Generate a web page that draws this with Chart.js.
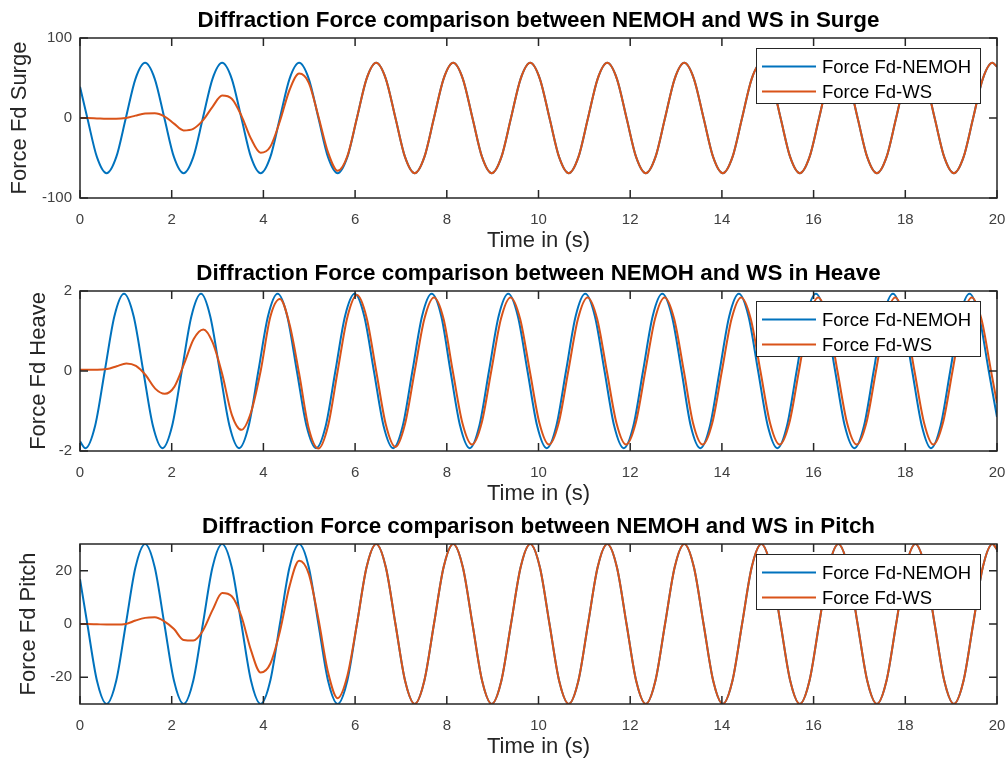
<!DOCTYPE html>
<html>
<head>
<meta charset="utf-8">
<title>Diffraction Force comparison between NEMOH and WS</title>
<script src="https://cdn.jsdelivr.net/npm/chart.js@4.4.1/dist/chart.umd.min.js"></script>
<style>
  html, body { margin: 0; padding: 0; background: #fff; overflow: hidden; }
  #wrap { position: relative; width: 1007px; height: 764px; }
  .panel { position: absolute; left: 0; width: 1007px; height: 254px; }
  canvas { display: block; }
</style>
</head>
<body>
<div id="wrap">
  <div class="panel" style="top:0px"><canvas id="surgeChart" width="1007" height="254"></canvas></div>
  <div class="panel" style="top:253px"><canvas id="heaveChart" width="1007" height="254"></canvas></div>
  <div class="panel" style="top:506px"><canvas id="pitchChart" width="1007" height="254"></canvas></div>
</div>
<script>
const xTicks = [0, 2, 4, 6, 8, 10, 12, 14, 16, 18, 20];

// Surge
const surgeTicks = [-100, 0, 100];
const surgeTime = [0,
    0.16, 0.37, 0.58, 0.79, 1.00, 1.21, 1.42, 1.63,
    1.84, 2.05, 2.26, 2.47, 2.68, 2.89, 3.10, 3.31,
    3.52, 3.73, 3.94, 4.15, 4.36, 4.57, 4.78, 4.99,
    5.20, 5.41, 5.62, 5.83, 6.04, 6.25, 6.46, 6.67,
    6.88, 7.09, 7.30, 7.51, 7.72, 7.93, 8.14, 8.35,
    8.56, 8.77, 8.98, 9.19, 9.40, 9.61, 9.82, 10.03,
    10.24, 10.45, 10.66, 10.87, 11.08, 11.29, 11.50, 11.71,
    11.92, 12.13, 12.34, 12.55, 12.76, 12.97, 13.18, 13.39,
    13.60, 13.81, 14.02, 14.23, 14.44, 14.65, 14.86, 15.07,
    15.28, 15.49, 15.70, 15.91, 16.12, 16.33, 16.54, 16.75,
    16.96, 17.17, 17.38, 17.59, 17.80, 18.01, 18.22, 18.43,
    18.64, 18.85, 19.06, 19.27, 19.48, 19.69, 19.90, 20.00];
const surgeNemoh = [39,
    0, -49, -69, -49, 0, 49, 69, 49,
    0, -49, -69, -49, 0, 49, 69, 49,
    0, -49, -69, -49, 0, 49, 69, 49,
    0, -49, -69, -49, 0, 49, 69, 49,
    0, -49, -69, -49, 0, 49, 69, 49,
    0, -49, -69, -49, 0, 49, 69, 49,
    0, -49, -69, -49, 0, 49, 69, 49,
    0, -49, -69, -49, 0, 49, 69, 49,
    0, -49, -69, -49, 0, 49, 69, 49,
    0, -49, -69, -49, 0, 49, 69, 49,
    0, -49, -69, -49, 0, 49, 69, 49,
    0, -49, -69, -49, 0, 49, 69, 64];
const surgeWs = [0,
    0, -0.5, -1, -1, 0, 3, 5.5, 5.8,
    2, -7, -15.5, -13.5, -3, 14, 28, 24,
    3, -26, -43.5, -36, -4, 35, 55.5, 44,
    2, -43, -66, -48, 0, 49, 69, 49,
    0, -49, -69, -49, 0, 49, 69, 49,
    0, -49, -69, -49, 0, 49, 69, 49,
    0, -49, -69, -49, 0, 49, 69, 49,
    0, -49, -69, -49, 0, 49, 69, 49,
    0, -49, -69, -49, 0, 49, 69, 49,
    0, -49, -69, -49, 0, 49, 69, 49,
    0, -49, -69, -49, 0, 49, 69, 49,
    0, -49, -69, -49, 0, 49, 69, 64];

// Heave
const heaveTicks = [-2, 0, 2];
const heaveTime = [0,
    0.12, 0.33, 0.54, 0.75, 0.96, 1.17, 1.38, 1.59,
    1.80, 2.01, 2.22, 2.43, 2.64, 2.84, 3.05, 3.26,
    3.47, 3.68, 3.89, 4.10, 4.31, 4.52, 4.73, 4.94,
    5.15, 5.36, 5.57, 5.78, 5.99, 6.20, 6.41, 6.62,
    6.83, 7.04, 7.25, 7.46, 7.67, 7.88, 8.08, 8.29,
    8.50, 8.71, 8.92, 9.13, 9.34, 9.55, 9.76, 9.97,
    10.18, 10.39, 10.60, 10.81, 11.02, 11.23, 11.44, 11.65,
    11.86, 12.07, 12.28, 12.49, 12.70, 12.91, 13.12, 13.32,
    13.53, 13.74, 13.95, 14.16, 14.37, 14.58, 14.79, 15.00,
    15.21, 15.42, 15.63, 15.84, 16.05, 16.26, 16.47, 16.68,
    16.89, 17.10, 17.31, 17.52, 17.73, 17.94, 18.15, 18.36,
    18.56, 18.77, 18.98, 19.19, 19.40, 19.61, 19.82, 20.00];
const heaveNemoh = [-1.76,
    -1.93, -1.37, 0, 1.37, 1.93, 1.37, 0, -1.37,
    -1.93, -1.37, 0, 1.37, 1.93, 1.37, 0, -1.37,
    -1.93, -1.37, 0, 1.37, 1.93, 1.37, 0, -1.37,
    -1.93, -1.37, 0, 1.37, 1.93, 1.37, 0, -1.37,
    -1.93, -1.37, 0, 1.37, 1.93, 1.37, 0, -1.37,
    -1.93, -1.37, 0, 1.37, 1.93, 1.37, 0, -1.37,
    -1.93, -1.37, 0, 1.37, 1.93, 1.37, 0, -1.37,
    -1.93, -1.37, 0, 1.37, 1.93, 1.37, 0, -1.37,
    -1.93, -1.37, 0, 1.37, 1.93, 1.37, 0, -1.37,
    -1.93, -1.37, 0, 1.37, 1.93, 1.37, 0, -1.37,
    -1.93, -1.37, 0, 1.37, 1.93, 1.37, 0, -1.37,
    -1.93, -1.37, 0, 1.37, 1.93, 1.37, 0, -1.15];
const heaveWsTime = [0,
    0.17, 0.38, 0.59, 0.80, 1.01, 1.22, 1.43, 1.64,
    1.85, 2.06, 2.27, 2.48, 2.69, 2.89, 3.10, 3.31,
    3.52, 3.73, 3.94, 4.15, 4.36, 4.57, 4.78, 4.99,
    5.20, 5.41, 5.62, 5.83, 6.04, 6.25, 6.46, 6.67,
    6.88, 7.09, 7.30, 7.51, 7.72, 7.93, 8.13, 8.34,
    8.55, 8.76, 8.97, 9.18, 9.39, 9.60, 9.81, 10.02,
    10.23, 10.44, 10.65, 10.86, 11.07, 11.28, 11.49, 11.70,
    11.91, 12.12, 12.33, 12.54, 12.75, 12.96, 13.17, 13.37,
    13.58, 13.79, 14.00, 14.21, 14.42, 14.63, 14.84, 15.05,
    15.26, 15.47, 15.68, 15.89, 16.10, 16.31, 16.52, 16.73,
    16.94, 17.15, 17.36, 17.57, 17.78, 17.99, 18.20, 18.41,
    18.61, 18.82, 19.03, 19.24, 19.45, 19.66, 19.87, 20.00];
const heaveWs = [0.03,
    0.03, 0.03, 0.05, 0.12, 0.19, 0.13, -0.1, -0.44,
    -0.57, -0.39, 0.18, 0.80, 1.04, 0.72, -0.07, -1.09,
    -1.47, -1.03, 0, 1.35, 1.80, 1.17, -0.07, -1.44,
    -1.94, -1.37, 0, 1.34, 1.90, 1.34, 0, -1.34,
    -1.90, -1.32, 0, 1.30, 1.84, 1.30, 0, -1.30,
    -1.84, -1.30, 0, 1.30, 1.84, 1.30, 0, -1.30,
    -1.84, -1.30, 0, 1.30, 1.84, 1.30, 0, -1.30,
    -1.84, -1.30, 0, 1.30, 1.84, 1.30, 0, -1.30,
    -1.84, -1.30, 0, 1.30, 1.84, 1.30, 0, -1.30,
    -1.84, -1.30, 0, 1.30, 1.84, 1.30, 0, -1.30,
    -1.84, -1.30, 0, 1.30, 1.84, 1.30, 0, -1.30,
    -1.84, -1.30, 0, 1.30, 1.84, 1.30, 0, -0.8];

// Pitch
const pitchTicks = [-20, 0, 20];
const pitchTime = [0,
    0.16, 0.37, 0.58, 0.79, 1.00, 1.21, 1.42, 1.63,
    1.84, 2.05, 2.26, 2.47, 2.68, 2.89, 3.10, 3.31,
    3.52, 3.73, 3.94, 4.15, 4.36, 4.57, 4.78, 4.99,
    5.20, 5.41, 5.62, 5.83, 6.04, 6.25, 6.46, 6.67,
    6.88, 7.09, 7.30, 7.51, 7.72, 7.93, 8.14, 8.35,
    8.56, 8.77, 8.98, 9.19, 9.40, 9.61, 9.82, 10.03,
    10.24, 10.45, 10.66, 10.87, 11.08, 11.29, 11.50, 11.71,
    11.92, 12.13, 12.34, 12.55, 12.76, 12.97, 13.18, 13.39,
    13.60, 13.81, 14.02, 14.23, 14.44, 14.65, 14.86, 15.07,
    15.28, 15.49, 15.70, 15.91, 16.12, 16.33, 16.54, 16.75,
    16.96, 17.17, 17.38, 17.59, 17.80, 18.01, 18.22, 18.43,
    18.64, 18.85, 19.06, 19.27, 19.48, 19.69, 19.90, 20.00];
const pitchNemoh = [16.8,
    0, -21.3, -30, -21.3, 0, 21.3, 30, 21.3,
    0, -21.3, -30, -21.3, 0, 21.3, 30, 21.3,
    0, -21.3, -30, -21.3, 0, 21.3, 30, 21.3,
    0, -21.3, -30, -21.3, 0, 21.3, 30, 21.3,
    0, -21.3, -30, -21.3, 0, 21.3, 30, 21.3,
    0, -21.3, -30, -21.3, 0, 21.3, 30, 21.3,
    0, -21.3, -30, -21.3, 0, 21.3, 30, 21.3,
    0, -21.3, -30, -21.3, 0, 21.3, 30, 21.3,
    0, -21.3, -30, -21.3, 0, 21.3, 30, 21.3,
    0, -21.3, -30, -21.3, 0, 21.3, 30, 21.3,
    0, -21.3, -30, -21.3, 0, 21.3, 30, 21.3,
    0, -21.3, -30, -21.3, 0, 21.3, 30, 28];
const pitchWs = [0,
    0, -0.1, -0.2, -0.2, 0, 1.3, 2.3, 2.5,
    1.0, -1.9, -6.0, -6.2, -2.5, 5.2, 11.6, 10.4,
    2.9, -9.9, -18.2, -14.9, -2.8, 14.2, 23.7, 18.8,
    1.9, -18.1, -27.8, -19.5, 0, 21.3, 30, 21.3,
    0, -21.3, -30, -21.3, 0, 21.3, 30, 21.3,
    0, -21.3, -30, -21.3, 0, 21.3, 30, 21.3,
    0, -21.3, -30, -21.3, 0, 21.3, 30, 21.3,
    0, -21.3, -30, -21.3, 0, 21.3, 30, 21.3,
    0, -21.3, -30, -21.3, 0, 21.3, 30, 21.3,
    0, -21.3, -30, -21.3, 0, 21.3, 30, 21.3,
    0, -21.3, -30, -21.3, 0, 21.3, 30, 21.3,
    0, -21.3, -30, -21.3, 0, 21.3, 30, 28];

const NEMOH_COLOR = '#0072BD';
const WS_COLOR = '#D95319';
const AXIS_COLOR = '#262626';
const FONT = '"Liberation Sans", Arial, sans-serif';

Chart.defaults.font.family = FONT;

function toPoints(times, values) {
    return times.map((t, i) => ({ x: t, y: values[i] }));
}

// axes box + inward tick marks, MATLAB style
const axesBox = {
    id: 'axesBox',
    afterDatasetsDraw(chart) {
        const { ctx, chartArea: a, scales: { x, y } } = chart;
        const len = 8;
        ctx.save();
        ctx.strokeStyle = AXIS_COLOR;
        ctx.lineWidth = 1.5;
        ctx.beginPath();
        x.ticks.forEach(t => {
            const px = x.getPixelForValue(t.value);
            ctx.moveTo(px, a.bottom); ctx.lineTo(px, a.bottom - len);
            ctx.moveTo(px, a.top); ctx.lineTo(px, a.top + len);
        });
        y.ticks.forEach(t => {
            const py = y.getPixelForValue(t.value);
            ctx.moveTo(a.left, py); ctx.lineTo(a.left + len, py);
            ctx.moveTo(a.right, py); ctx.lineTo(a.right - len, py);
        });
        ctx.stroke();
        ctx.strokeRect(a.left, a.top, a.right - a.left, a.bottom - a.top);
        ctx.restore();
    }
};

// title centred over the axes and the boxed legend in the top right corner
const figDecor = {
    id: 'figDecor',
    afterDraw(chart, args, opts) {
        const { ctx, chartArea: a } = chart;
        ctx.save();
        ctx.fillStyle = '#000';
        ctx.font = 'bold 22.4px ' + FONT;
        ctx.textAlign = 'center';
        ctx.textBaseline = 'middle';
        ctx.fillText(opts.title, (a.left + a.right) / 2, a.top - 17);

        const bw = 224, bh = 55;
        const bx = a.right - 17 - bw, by = a.top + 10;
        ctx.fillStyle = '#fff';
        ctx.fillRect(bx, by, bw, bh);
        ctx.strokeStyle = AXIS_COLOR;
        ctx.lineWidth = 1;
        ctx.strokeRect(bx + 0.5, by + 0.5, bw, bh);
        ctx.font = '18.5px ' + FONT;
        ctx.textAlign = 'left';
        chart.data.datasets.slice().sort((p, q) => q.order - p.order).forEach((ds, i) => {
            const ry = by + 18.5 + i * 25;
            ctx.strokeStyle = ds.borderColor;
            ctx.lineWidth = 2;
            ctx.beginPath();
            ctx.moveTo(bx + 6, ry); ctx.lineTo(bx + 60, ry);
            ctx.stroke();
            ctx.fillStyle = '#000';
            ctx.fillText(ds.label, bx + 66, ry + 1);
        });
        ctx.restore();
    }
};

function makeChart(id, cfg) {
    new Chart(document.getElementById(id), {
        type: 'line',
        data: {
            datasets: [{
                label: 'Force Fd-NEMOH',
                data: toPoints(cfg.time, cfg.nemoh),
                borderColor: NEMOH_COLOR,
                borderWidth: 2,
                pointRadius: 0,
                cubicInterpolationMode: 'monotone',
                order: 1
            }, {
                label: 'Force Fd-WS',
                data: toPoints(cfg.wsTime, cfg.ws),
                borderColor: WS_COLOR,
                borderWidth: 2,
                pointRadius: 0,
                cubicInterpolationMode: 'monotone',
                order: 0
            }]
        },
        options: {
            responsive: false,
            animation: false,
            layout: { padding: { top: 38, right: 10, left: 0, bottom: 0 } },
            plugins: {
                legend: { display: false },
                tooltip: { enabled: false },
                figDecor: { title: cfg.title }
            },
            scales: {
                x: {
                    type: 'linear',
                    min: 0,
                    max: 20,
                    afterBuildTicks: s => { s.ticks = xTicks.map(v => ({ value: v })); },
                    // fixed height, and no side padding so the axes keep their width
                    afterFit: s => { s.height = 56; s.paddingLeft = 0; s.paddingRight = 0; },
                    grid: { display: false, drawTicks: false },
                    border: { display: false },
                    ticks: { color: '#404040', font: { size: 15 }, padding: 13, maxRotation: 0, autoSkip: false },
                    title: { display: true, text: 'Time in (s)', color: AXIS_COLOR, font: { size: 22 }, padding: 0 }
                },
                y: {
                    type: 'linear',
                    min: cfg.min,
                    max: cfg.max,
                    afterBuildTicks: s => { s.ticks = cfg.ticks.map(v => ({ value: v })); },
                    afterFit: s => { s.width = 80; },
                    grid: { display: false, drawTicks: false },
                    border: { display: false },
                    ticks: { color: '#404040', font: { size: 15 }, padding: 8 },
                    title: { display: true, text: cfg.yTitle, color: AXIS_COLOR, font: { size: 22 }, padding: { top: cfg.yTitlePad, bottom: 0 } }
                }
            }
        },
        plugins: [axesBox, figDecor]
    });
}

makeChart('surgeChart', {
    title: 'Diffraction Force comparison between NEMOH and WS in Surge',
    yTitle: 'Force Fd Surge', yTitlePad: 7,
    min: -100, max: 100, ticks: surgeTicks,
    time: surgeTime, nemoh: surgeNemoh, wsTime: surgeTime, ws: surgeWs
});

makeChart('heaveChart', {
    title: 'Diffraction Force comparison between NEMOH and WS in Heave',
    yTitle: 'Force Fd Heave', yTitlePad: 26,
    min: -2, max: 2, ticks: heaveTicks,
    time: heaveTime, nemoh: heaveNemoh, wsTime: heaveWsTime, ws: heaveWs
});

makeChart('pitchChart', {
    title: 'Diffraction Force comparison between NEMOH and WS in Pitch',
    yTitle: 'Force Fd Pitch', yTitlePad: 16,
    min: -30, max: 30, ticks: pitchTicks,
    time: pitchTime, nemoh: pitchNemoh, wsTime: pitchTime, ws: pitchWs
});
</script>
</body>
</html>
